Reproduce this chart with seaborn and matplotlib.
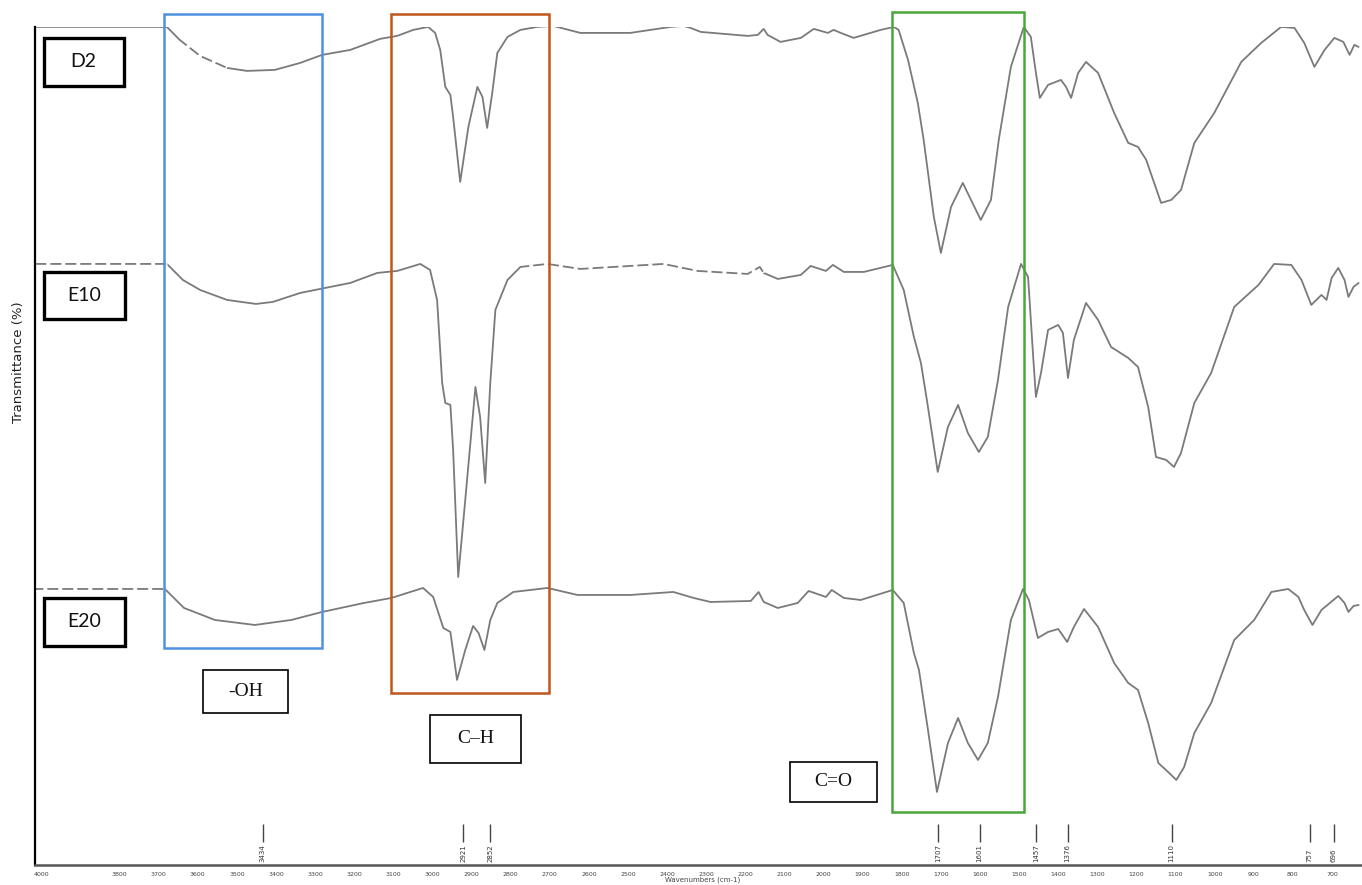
import numpy as np
import pandas as pd
import seaborn as sns
import matplotlib.pyplot as plt
from matplotlib.patches import Rectangle

# wavenumbers (cm-1) and stacked transmittance (arbitrary offset units)
d2_wn = [4012, 3850, 3679, 3646, 3594, 3525, 3474, 3403, 3338, 3282, 3210, 3134, 3090, 3049,
         3011, 2993, 2980, 2967, 2954, 2947, 2929, 2908, 2885, 2872, 2860, 2847, 2834, 2808,
         2775, 2732, 2691, 2622, 2494, 2391, 2358, 2340, 2314, 2194, 2168, 2153, 2143, 2110,
         2058, 2025, 1989, 1974, 1956, 1923, 1854, 1820, 1808, 1784, 1759, 1744, 1718, 1700,
         1674, 1644, 1623, 1598, 1572, 1552, 1521, 1488, 1470, 1457, 1447, 1426, 1393, 1380,
         1367, 1349, 1329, 1298, 1257, 1221, 1196, 1175, 1137, 1111, 1086, 1052, 1001, 932,
         881, 830, 796, 771, 745, 719, 694, 671, 655, 643, 632]
d2_t = [83.8, 83.8, 83.8, 82.5, 80.9, 79.7, 79.4, 79.5, 80.2, 81.0, 81.5, 82.6, 82.9, 83.5,
        83.8, 83.2, 81.5, 77.8, 77.0, 74.8, 68.3, 73.8, 77.8, 76.8, 73.7, 77.2, 81.2, 82.8,
        83.5, 83.8, 83.9, 83.2, 83.2, 83.8, 83.9, 83.7, 83.3, 82.9, 83.0, 83.6, 83.0, 82.3,
        82.7, 83.6, 83.2, 83.5, 83.2, 82.7, 83.5, 83.8, 83.5, 80.5, 76.2, 72.5, 64.8, 61.2,
        65.8, 68.2, 66.5, 64.5, 66.5, 72.5, 79.8, 83.8, 82.8, 79.2, 76.7, 78.0, 78.5, 77.8,
        76.7, 79.2, 80.3, 79.2, 75.2, 72.2, 71.8, 70.5, 66.2, 66.5, 67.5, 72.2, 75.2, 80.3,
        82.2, 83.8, 83.7, 82.2, 79.8, 81.5, 82.7, 82.3, 81.0, 82.0, 81.8]

e10_wn = [4012, 3679, 3671, 3638, 3594, 3525, 3451, 3408, 3338, 3287, 3210, 3141, 3090, 3031,
          3006, 2988, 2975, 2967, 2954, 2947, 2934, 2916, 2890, 2878, 2865, 2852, 2839, 2808,
          2775, 2706, 2622, 2409, 2322, 2194, 2163, 2153, 2117, 2058, 2033, 1994, 1976, 1948,
          1897, 1823, 1795, 1769, 1751, 1733, 1708, 1682, 1656, 1631, 1603, 1580, 1554, 1528,
          1495, 1477, 1464, 1457, 1444, 1426, 1400, 1388, 1375, 1360, 1329, 1298, 1265, 1221,
          1196, 1170, 1150, 1124, 1104, 1086, 1052, 1009, 950, 888, 848, 804, 778, 753, 727,
          714, 701, 684, 668, 658, 645, 632]
e10_t = [60.1, 60.1, 59.8, 58.5, 57.5, 56.5, 56.1, 56.3, 57.2, 57.6, 58.2, 59.2, 59.4, 60.1,
         59.5, 56.5, 48.2, 46.2, 46.0, 41.5, 28.8, 36.5, 47.8, 44.8, 38.2, 48.2, 55.5, 58.5,
         59.8, 60.1, 59.6, 60.1, 59.4, 59.1, 59.8, 59.2, 58.6, 59.0, 59.9, 59.4, 60.0, 59.3,
         59.3, 60.0, 57.5, 52.8, 50.2, 45.8, 39.3, 43.8, 46.0, 43.2, 41.3, 42.8, 48.5, 55.8,
         60.1, 58.8, 50.8, 46.8, 49.2, 53.5, 54.0, 53.2, 48.7, 52.5, 56.2, 54.5, 51.8, 50.7,
         49.8, 45.8, 40.8, 40.5, 39.8, 41.2, 46.2, 49.2, 55.8, 58.0, 60.1, 60.0, 58.5, 56.0,
         57.0, 56.5, 58.7, 59.7, 58.5, 56.8, 57.8, 58.2]

e20_wn = [4019, 3684, 3635, 3556, 3454, 3361, 3282, 3175, 3105, 3024, 2998, 2972, 2954, 2937,
          2916, 2896, 2882, 2867, 2852, 2834, 2793, 2706, 2629, 2494, 2384, 2332, 2289, 2186,
          2166, 2153, 2117, 2066, 2038, 1994, 1979, 1948, 1905, 1823, 1795, 1769, 1756, 1733,
          1710, 1682, 1656, 1631, 1605, 1580, 1554, 1521, 1490, 1475, 1452, 1426, 1400, 1377,
          1360, 1334, 1298, 1257, 1221, 1196, 1170, 1144, 1119, 1098, 1078, 1052, 1009, 950,
          899, 855, 812, 786, 771, 750, 727, 684, 668, 658, 645, 632]
e20_t = [27.6, 27.6, 25.7, 24.5, 24.0, 24.5, 25.3, 26.2, 26.7, 27.7, 26.8, 23.7, 23.3, 18.5,
         21.5, 23.9, 23.2, 21.5, 24.5, 26.2, 27.3, 27.7, 27.0, 27.0, 27.3, 26.7, 26.3, 26.4,
         27.3, 26.3, 25.7, 26.2, 27.4, 26.8, 27.5, 26.7, 26.5, 27.5, 26.2, 21.2, 19.5, 13.5,
         7.3, 12.2, 14.7, 12.2, 10.5, 12.2, 16.8, 24.5, 27.6, 26.5, 22.7, 23.3, 23.6, 22.3,
         23.8, 25.6, 23.8, 20.2, 18.2, 17.5, 14.2, 10.2, 9.3, 8.5, 9.8, 13.2, 16.2, 22.5,
         24.5, 27.3, 27.6, 26.8, 25.5, 24.0, 25.5, 26.9, 26.2, 25.3, 25.9, 26.0]

sample_names = ["D2", "E10", "E20"]
peak_labels = [3434, 2921, 2852, 1707, 1601, 1457, 1376, 1110, 757, 696]
tick_values = [4000] + list(range(3800, 599, -100))
groups = ["-OH", "C\u2013H", "C=O"]

df = pd.concat([
    pd.DataFrame({"wn": d2_wn, "t": d2_t, "sample": "D2"}),
    pd.DataFrame({"wn": e10_wn, "t": e10_t, "sample": "E10"}),
    pd.DataFrame({"wn": e20_wn, "t": e20_t, "sample": "E20"}),
])

sns.set_style("white")
fig = plt.figure(figsize=(13.62, 8.85), dpi=100)
ax = fig.add_axes([0.0257, 0.0226, 0.981, 0.947])

sns.lineplot(data=df, x="wn", y="t", hue="sample", palette=["#7a7a7a"] * 3,
             estimator=None, sort=False, legend=False, linewidth=1.3, ax=ax)

# broken (scanned) look of the flat baseline parts
broken = [("E10", 4012, 3679), ("E20", 4019, 3684), ("E10", 2800, 2120), ("D2", 3650, 3480)]
for name, hi, lo in broken:
    seg = df[(df["sample"] == name) & (df["wn"] <= hi) & (df["wn"] >= lo)]
    ax.plot(seg["wn"], seg["t"], color="white", linewidth=2.2,
            linestyle=(2, (1.3, 3.6)), zorder=2.5)

ax.set_xlim(4016, 620)
ax.set_ylim(0, 83.8)

# highlighted regions
regions = [(3687, 3282, 21.7, 85.1, "#4f93e0"),
           (3105, 2701, 17.2, 85.1, "#c0561a"),
           (1825, 1488, 5.3, 85.3, "#4aa63a")]
for x0, x1, y0, y1, col in regions:
    ax.add_patch(Rectangle((x1, y0), x0 - x1, y1 - y0, fill=False, edgecolor=col,
                           linewidth=1.8, clip_on=False, zorder=3))

# sample label boxes
sample_boxes = [(3994, 3789, 77.9, 82.7), (3994, 3787, 54.6, 59.3), (3994, 3787, 21.9, 26.7)]
for name, (x0, x1, y0, y1) in zip(sample_names, sample_boxes):
    ax.add_patch(Rectangle((x1, y0), x0 - x1, y1 - y0, fill=False, edgecolor="black",
                           linewidth=2.4, zorder=4))
    ax.text((x0 + x1) / 2, (y0 + y1) / 2, name, ha="center", va="center",
            fontsize=14, family="Lato", color="#111111")

# functional group boxes
group_boxes = [(3587, 3369, 15.2, 19.5), (3006, 2773, 10.2, 15.0), (2087, 1864, 6.3, 10.3)]
for name, (x0, x1, y0, y1) in zip(groups, group_boxes):
    ax.add_patch(Rectangle((x1, y0), x0 - x1, y1 - y0, fill=False, edgecolor="black",
                           linewidth=1.2, zorder=4))
    ax.text((x0 + x1) / 2, (y0 + y1) / 2, name, ha="center", va="center",
            fontsize=14, family="Liberation Serif", color="#111111")

# peak markers
for p in peak_labels:
    ax.vlines(p, 2.3, 4.1, color="#444444", linewidth=1.0)
    ax.text(p, 0.25, str(p), rotation=90, ha="center", va="bottom",
            fontsize=5, color="#333333")

ax.set_xticks(tick_values)
ax.set_xticklabels([str(v) for v in tick_values], fontsize=4.5, color="#444444")
ax.tick_params(axis="x", direction="inout", length=4, width=0.8, color="#555555", pad=3)
ax.set_yticks([])
ax.set_xlabel("Wavenumbers (cm-1)", fontsize=5, color="#444444", labelpad=0)
ax.set_ylabel("Transmittance (%)", fontsize=9.5, color="#222222")
ax.yaxis.set_label_coords(-0.0075, 0.60)

for s in ["top", "right"]:
    ax.spines[s].set_visible(False)
ax.spines["left"].set_color("black")
ax.spines["left"].set_linewidth(1.6)
ax.spines["bottom"].set_color("#555555")
ax.spines["bottom"].set_linewidth(1.8)

fig.savefig("out.png", dpi=100)
